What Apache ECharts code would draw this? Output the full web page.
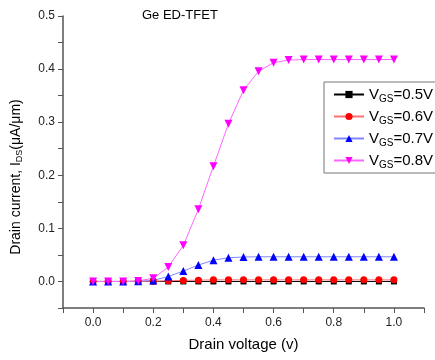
<!DOCTYPE html>
<html>
<head>
<meta charset="utf-8">
<script src="https://cdn.jsdelivr.net/npm/echarts@6/dist/echarts.min.js"></script>
<style>
  html, body { margin: 0; padding: 0; background: #fff; }
  #chart { width: 435px; height: 360px; }
</style>
</head>
<body>
<div id="chart"></div>
<script>
// 漏极电压 (V)
var drainVoltage = [0, 0.05, 0.1, 0.15, 0.2, 0.25, 0.3, 0.35, 0.4, 0.45, 0.5,
  0.55, 0.6, 0.65, 0.7, 0.75, 0.8, 0.85, 0.9, 0.95, 1.0];

// 各栅压下的漏极电流 (uA/um)
var vgs05 = [0, 0, 0, 0, 0, 0, 0, 0, 0, 0, 0, 0, 0, 0, 0, 0, 0, 0, 0, 0, 0];
var vgs06 = [0, 0, 0, 0, 0.0005, 0.0015, 0.002, 0.0025, 0.003, 0.003, 0.003,
  0.003, 0.003, 0.003, 0.003, 0.003, 0.003, 0.003, 0.003, 0.003, 0.003];
var vgs07 = [0, 0, 0, 0.0005, 0.002, 0.0094, 0.0195, 0.031, 0.04, 0.0447, 0.046,
  0.0465, 0.0465, 0.0465, 0.0465, 0.0465, 0.0465, 0.0465, 0.0465, 0.0465, 0.0465];
var vgs08 = [0, 0, 0, 0.001, 0.006, 0.027, 0.068, 0.136, 0.217, 0.297, 0.36,
  0.396, 0.412, 0.417, 0.418, 0.418, 0.418, 0.418, 0.418, 0.418, 0.418];

var seriesNames = ['0.5', '0.6', '0.7', '0.8'];

function pairs(ys) {
  return drainVoltage.map(function (x, i) { return [x, ys[i]]; });
}

var chart = echarts.init(document.getElementById('chart'));

var font = 'Liberation Sans, Arial, sans-serif';

var option = {
  animation: false,
  textStyle: { fontFamily: font },
  grid: { left: 63, right: 11, top: 16, bottom: 52 },
  title: {
    text: 'Ge ED-TFET',
    left: 137, top: 4,
    textStyle: { fontSize: 13, fontWeight: 'normal', color: '#000', fontFamily: font }
  },
  legend: {
    orient: 'vertical',
    left: 324, top: 82,
    padding: [3, 60, 3, 9],
    itemGap: 3,
    itemWidth: 30,
    itemHeight: 9,
    borderColor: '#777',
    borderWidth: 1,
    formatter: function (name) {
      return 'V{sub|GS}=' + name + 'V';
    },
    textStyle: {
      fontSize: 15, color: '#000', fontFamily: font, lineHeight: 19,
      rich: {
        sub: { fontSize: 10, padding: [9, 0, 0, 0], fontFamily: font, color: '#000' }
      }
    }
  },
  xAxis: {
    type: 'value',
    min: -0.1, max: 1.1, interval: 0.1,
    name: 'Drain voltage (v)',
    nameLocation: 'middle',
    nameGap: 29,
    nameTextStyle: { fontSize: 15, color: '#000' },
    axisLine: { onZero: false, lineStyle: { color: '#555', width: 1.5 } },
    axisTick: { length: 5, lineStyle: { color: '#555' } },
    axisLabel: {
      fontSize: 12, color: '#222', margin: 9,
      formatter: function (v) {
        var k = Math.round(v * 10);
        if (k >= 0 && k <= 10 && k % 2 === 0) return (k / 10).toFixed(1);
        return '';
      }
    },
    splitLine: { show: false }
  },
  yAxis: {
    type: 'value',
    min: -0.05, max: 0.5, interval: 0.05,
    axisLine: { onZero: false, lineStyle: { color: '#555', width: 1.5 } },
    axisTick: { length: 5, lineStyle: { color: '#555' } },
    axisLabel: {
      fontSize: 12, color: '#222', margin: 8,
      formatter: function (v) {
        var k = Math.round(v * 20);
        if (k >= 0 && k % 2 === 0) return (k / 20).toFixed(1);
        return '';
      }
    },
    splitLine: { show: false }
  },
  graphic: [{
    type: 'text',
    x: 16, y: 177,
    rotation: Math.PI / 2,
    style: {
      text: 'Drain current, I{sub|DS}(μA/μm)',
      font: '14px ' + font,
      fill: '#000',
      align: 'center',
      verticalAlign: 'middle',
      rich: {
        sub: { fontSize: 9, padding: [8, 0, 0, 0], fill: '#000' }
      }
    }
  }],
  series: [
    {
      name: seriesNames[0], type: 'line', data: pairs(vgs05),
      symbol: 'rect', symbolSize: 6,
      itemStyle: { color: '#000' },
      lineStyle: { color: '#000', width: 1 }
    },
    {
      name: seriesNames[1], type: 'line', data: pairs(vgs06),
      symbol: 'circle', symbolSize: 7,
      itemStyle: { color: '#ff0000' },
      lineStyle: { color: '#ff7070', width: 1 }
    },
    {
      name: seriesNames[2], type: 'line', data: pairs(vgs07),
      symbol: 'triangle', symbolSize: 8,
      itemStyle: { color: '#0000ff' },
      lineStyle: { color: '#7f86ff', width: 1 }
    },
    {
      name: seriesNames[3], type: 'line', data: pairs(vgs08),
      symbol: 'triangle', symbolRotate: 180, symbolSize: 8,
      itemStyle: { color: '#ff00ff' },
      lineStyle: { color: '#ff66ff', width: 1 }
    }
  ]
};

chart.setOption(option);
</script>
</body>
</html>
